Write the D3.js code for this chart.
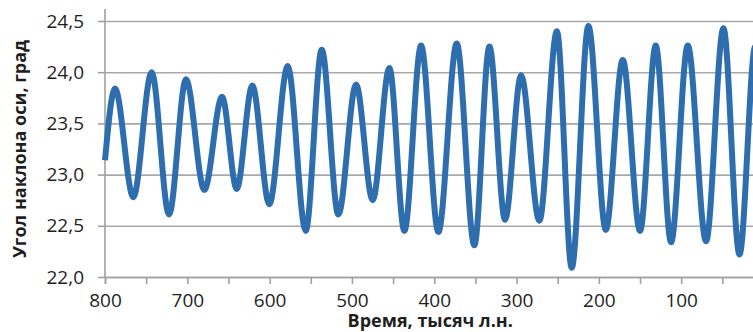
<!DOCTYPE html>
<html>
<head>
<meta charset="utf-8">
<script src="https://cdn.jsdelivr.net/npm/d3@7"></script>
<style>
  body { margin: 0; background: #fff; overflow: hidden; }
  text { font-family: "Open Sans", "DejaVu Sans", sans-serif; fill: #1e1e1e; }
</style>
</head>
<body>
<div id="chart-area"></div>
<script>
// turning points of the curve (thousand years ago / degrees)
const times = [800, 787.8, 765.6, 743.3, 722.2, 701.6, 679.3, 657.8, 640, 621,
	600.4, 578, 556.2, 536.7, 516.5, 495, 474.8, 454.5, 436.3, 416,
	395, 372.7, 351.3, 333, 314, 294.5, 272.3, 251, 233, 212.7,
	191.6, 171, 150, 130.9, 112.3, 92, 69.8, 48.7, 29.2, 10, 0]
const tilt = [23.14, 23.84, 22.78, 24.00, 22.61, 23.93, 22.85, 23.76, 22.86, 23.87,
	22.71, 24.06, 22.45, 24.22, 22.61, 23.88, 22.75, 24.04, 22.45, 24.26,
	22.44, 24.28, 22.31, 24.25, 22.56, 23.97, 22.55, 24.40, 22.09, 24.45,
	22.46, 24.12, 22.45, 24.26, 22.34, 24.26, 22.35, 24.43, 22.22, 24.25, 23.44]

const yTicks = [22, 22.5, 23, 23.5, 24, 24.5]
const xTicks = d3.range(800, -1, -50) // tick marks every 50
const xLabels = [800, 700, 600, 500, 400, 300, 200, 100] // 0 falls outside the picture

const data = times.map((t, i) => ({ t: t, v: tilt[i] }))

const width = 753
const height = 332
const plotL = 105, plotR = 763.5, plotT = 21, plotB = 277

const svg = d3.select("#chart-area").append("svg")
	.attr("width", width)
	.attr("height", height)

const x = d3.scaleLinear().domain([800, 0]).range([plotL, plotR])
const y = d3.scaleLinear().domain([22, 24.5]).range([plotB, plotT])

const ru = d3.formatLocale({ decimal: ",", thousands: " ", grouping: [3], currency: ["", ""] })
const fmt = ru.format(".1f")

// horizontal grid
const grid = svg.append("g")
	.attr("transform", `translate(${plotL},0)`)
	.call(d3.axisLeft(y).tickValues(yTicks).tickSize(-(plotR - plotL)).tickFormat(""))
grid.select(".domain").remove()
grid.selectAll("line").attr("stroke", "#a8a8a8").attr("stroke-width", 1.6)

// y axis with labels
const yAxis = svg.append("g")
	.attr("transform", `translate(${plotL},0)`)
	.call(d3.axisLeft(y).tickValues(yTicks).tickSize(7).tickPadding(14).tickFormat(fmt))
yAxis.select(".domain").remove()
yAxis.selectAll("line").attr("stroke", "#a0a0a0").attr("stroke-width", 1.6)
yAxis.selectAll("text")
	.attr("font-size", 19)
	.attr("font-family", "'Open Sans', sans-serif")
	.attr("fill", "#1e1e1e")

svg.append("line")
	.attr("x1", plotL).attr("x2", plotL)
	.attr("y1", 9).attr("y2", plotB)
	.attr("stroke", "#a0a0a0").attr("stroke-width", 1.6)

// x axis
const xAxis = svg.append("g")
	.attr("transform", `translate(0,${plotB})`)
	.call(d3.axisBottom(x).tickValues(xTicks).tickSize(7)
		.tickFormat(d => xLabels.includes(d) ? d : ""))
xAxis.select(".domain").attr("stroke", "#a0a0a0").attr("stroke-width", 1.6)
xAxis.selectAll("line").attr("stroke", "#a0a0a0").attr("stroke-width", 1.6)
xAxis.selectAll("text")
	.attr("y", 30)
	.attr("dy", 0)
	.attr("font-size", 19)
	.attr("font-family", "'Open Sans', sans-serif")
	.attr("fill", "#1e1e1e")

// the curve
const line = d3.line()
	.x(d => x(d.t))
	.y(d => y(d.v))
	.curve(d3.curveMonotoneX)

svg.append("path")
	.datum(data)
	.attr("fill", "none")
	.attr("stroke", "#2e6eae")
	.attr("stroke-width", 6)
	.attr("stroke-linejoin", "round")
	.attr("d", line)

// titles
svg.append("text")
	.attr("x", (plotL + plotR) / 2 - 4)
	.attr("y", 326.5)
	.attr("text-anchor", "middle")
	.attr("font-size", 18)
	.attr("font-weight", "bold")
	.text("Время, тысяч л.н.")

svg.append("text")
	.attr("transform", `translate(26,${(plotT + plotB) / 2}) rotate(-90)`)
	.attr("text-anchor", "middle")
	.attr("font-size", 18)
	.attr("font-weight", "bold")
	.text("Угол наклона оси, град")
</script>
</body>
</html>
